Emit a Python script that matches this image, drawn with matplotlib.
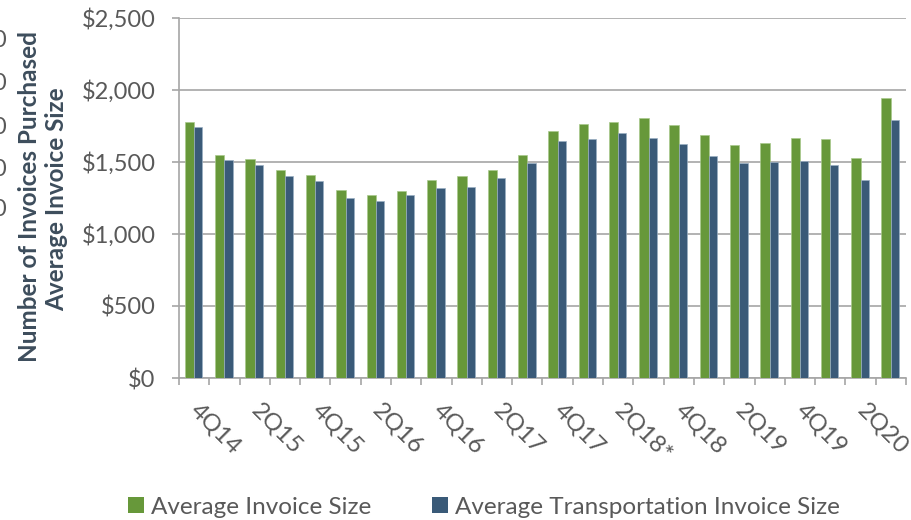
import matplotlib
matplotlib.use("Agg")
import matplotlib.pyplot as plt
from matplotlib.ticker import FixedLocator, FuncFormatter
from matplotlib.patches import Patch
import numpy as np

plt.rcParams['font.family'] = ['Lato', 'DejaVu Sans']

quarters = ["4Q14", "1Q15", "2Q15", "3Q15", "4Q15", "1Q16", "2Q16", "3Q16",
            "4Q16", "1Q17", "2Q17", "3Q17", "4Q17", "1Q18", "2Q18*", "3Q18",
            "4Q18", "1Q19", "2Q19", "3Q19", "4Q19", "1Q20", "2Q20", "3Q20"]
avg_invoice = [1776, 1551, 1521, 1444, 1412, 1306, 1271, 1301,
               1377, 1400, 1447, 1549, 1717, 1762, 1781, 1807,
               1758, 1687, 1619, 1635, 1668, 1659, 1530, 1943]
avg_transport = [1743, 1514, 1481, 1400, 1370, 1248, 1229, 1271,
                 1319, 1324, 1391, 1493, 1649, 1663, 1699, 1668,
                 1628, 1539, 1492, 1499, 1506, 1481, 1375, 1793]
series_names = ["Average Invoice Size", "Average Transportation Invoice Size"]
y_ticks = [0, 500, 1000, 1500, 2000, 2500]

GREEN = '#67983A'
BLUE = '#3A5A78'
GRID = '#A6A6A6'
TXT = '#595959'

W, H = 912, 520
fig = plt.figure(figsize=(W / 100, H / 100), dpi=100)
ax = fig.add_axes([179 / W, 1 - 378 / H, (906 - 179) / W, (378 - 18) / H])

x = np.arange(len(quarters))
ax.bar(x - 0.31, avg_invoice, width=0.31, align='edge', color=GREEN,
       edgecolor='#A9C98C', linewidth=0.5, zorder=3)
ax.bar(x, avg_transport, width=0.27, align='edge', color=BLUE,
       edgecolor='#9AAFC3', linewidth=0.5, zorder=3)

ax.set_xlim(-0.5, len(quarters) - 0.5)
ax.set_ylim(0, 2500)
ax.yaxis.set_major_locator(FixedLocator(y_ticks))
ax.yaxis.set_major_formatter(FuncFormatter(lambda v, p: f"${v:,.0f}"))
ax.grid(axis='y', color=GRID, linewidth=1.2, zorder=0)

for s in ['top', 'right']:
    ax.spines[s].set_visible(False)
for s in ['left', 'bottom']:
    ax.spines[s].set_color(GRID)
    ax.spines[s].set_linewidth(1.2)

ax.tick_params(axis='y', direction='out', length=5, width=1.2, color=GRID,
               labelsize=17, labelcolor=TXT, pad=12)

# x: boundary tick marks (minor) and labels every other quarter (major)
ax.set_xticks(np.arange(len(quarters) + 1) - 0.5, minor=True)
lab_pos = x[::2]
ax.set_xticks(lab_pos)
ax.set_xticklabels([quarters[i] for i in lab_pos], rotation=-45,
                   ha='left', va='center', rotation_mode='anchor')
ax.tick_params(axis='x', which='major', length=0, labelsize=17.5,
               labelcolor=TXT, pad=21)
ax.tick_params(axis='x', which='minor', direction='out', length=5,
               width=1.2, color=GRID)

# y axis titles
fig.text(30 / W, 1 - 197 / H, "Number of Invoices Purchased", rotation=90,
         ha='center', va='center', fontsize=17.5, fontweight='bold',
         color='#3D4D5C')
fig.text(57 / W, 1 - 199 / H, "Average Invoice Size", rotation=90,
         ha='center', va='center', fontsize=17.5, fontweight='bold',
         color='#3D4D5C')

# partially cut-off labels from neighbouring axis at left edge
for yy in [41, 84, 128, 170, 210]:
    fig.text(6 / W, 1 - yy / H, "0", ha='right', va='center',
             fontsize=17, color=TXT)

handles = [Patch(facecolor=GREEN, edgecolor='none'),
           Patch(facecolor=BLUE, edgecolor='none')]
fig.legend(handles, series_names, loc='center',
           bbox_to_anchor=(484 / W, 1 - 507 / H), ncol=2, frameon=False,
           fontsize=17.5, labelcolor=TXT, handlelength=0.65, handleheight=0.65,
           handletextpad=0.3, columnspacing=2.5)

fig.savefig("out.png", dpi=100)
